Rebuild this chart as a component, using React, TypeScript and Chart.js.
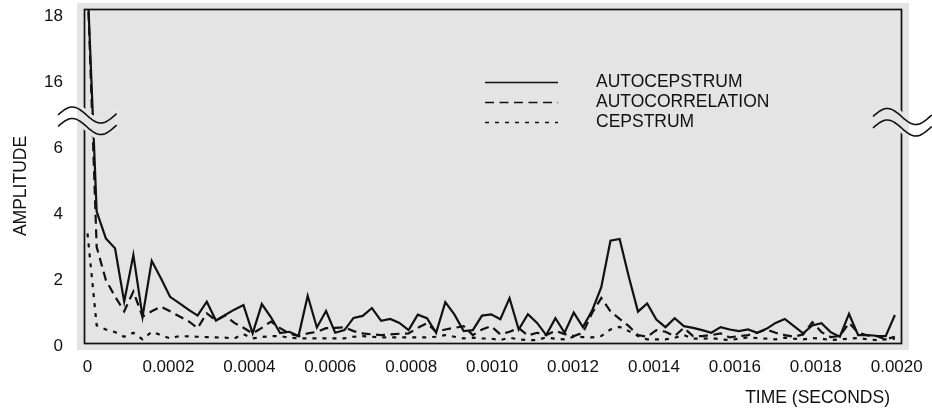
import React, { useEffect, useRef } from "react";
import { Chart, registerables } from "chart.js";

Chart.register(...registerables);

// Signals were sampled at 44.1 kHz; one value per sample index.
const SAMPLE_RATE = 44100;
const SAMPLE_COUNT = 89;
const TIME_S = Array.from({ length: SAMPLE_COUNT }, (_, i) => i / SAMPLE_RATE);

const AUTOCEPSTRUM = [
  19, 4.07, 3.26, 2.96, 1.34, 2.76, 0.89, 2.58, 2.05, 1.49, 1.3, 1.1, 0.92, 1.34, 0.77, 0.94, 1.1, 1.24, 0.38, 1.27, 0.87, 0.39,
  0.43, 0.3, 1.52, 0.56, 1.06, 0.4, 0.48, 0.85, 0.91, 1.15, 0.76, 0.82, 0.7, 0.48, 0.95, 0.84, 0.4, 1.33, 0.95, 0.45, 0.48,
  0.92, 0.96, 0.81, 1.45, 0.5, 0.96, 0.7, 0.33, 0.84, 0.4, 1.01, 0.57, 1.07, 1.78, 3.19, 3.24, 2.1, 1.04, 1.29, 0.8, 0.57, 0.84, 0.6,
  0.55, 0.48, 0.4, 0.57, 0.5, 0.45, 0.5, 0.4, 0.52, 0.7, 0.82, 0.6, 0.38, 0.62, 0.69, 0.42, 0.28, 0.97, 0.33, 0.33, 0.31, 0.3, 0.94,
];

const AUTOCORRELATION = [
  19, 3.0, 2.0, 1.5, 1.05, 1.65, 0.89, 1.05, 1.19, 1.05, 0.9, 0.75, 0.54, 0.99, 0.77, 0.92, 0.7, 0.55, 0.38, 0.55, 0.74, 0.54,
  0.38, 0.3, 0.38, 0.43, 0.54, 0.55, 0.57, 0.45, 0.38, 0.35, 0.33, 0.35, 0.37, 0.38, 0.55, 0.69, 0.43, 0.5, 0.55, 0.6, 0.33,
  0.5, 0.6, 0.35, 0.43, 0.54, 0.32, 0.4, 0.33, 0.46, 0.36, 0.3, 0.4, 1.0, 1.45, 1.05, 0.82, 0.6, 0.33, 0.28, 0.48, 0.43, 0.3, 0.55,
  0.3, 0.3, 0.33, 0.38, 0.26, 0.3, 0.33, 0.4, 0.5, 0.4, 0.33, 0.28, 0.35, 0.72, 0.42, 0.27, 0.3, 0.7, 0.4, 0.32, 0.3, 0.2, 0.28,
];

const CEPSTRUM = [
  3.41, 0.62, 0.5, 0.42, 0.28, 0.4, 0.2, 0.43, 0.33, 0.23, 0.3, 0.29, 0.28, 0.27, 0.26, 0.25, 0.23, 0.36, 0.23, 0.27, 0.3, 0.3,
  0.25, 0.23, 0.23, 0.23, 0.23, 0.23, 0.23, 0.28, 0.3, 0.28, 0.26, 0.26, 0.26, 0.26, 0.26, 0.26, 0.28, 0.33, 0.28, 0.23, 0.25,
  0.23, 0.22, 0.18, 0.25, 0.2, 0.18, 0.18, 0.26, 0.22, 0.2, 0.28, 0.27, 0.26, 0.3, 0.5, 0.58, 0.45, 0.3, 0.2, 0.2, 0.2, 0.25, 0.33,
  0.22, 0.22, 0.24, 0.2, 0.18, 0.22, 0.26, 0.24, 0.22, 0.2, 0.25, 0.22, 0.2, 0.24, 0.22, 0.18, 0.2, 0.22, 0.24, 0.2, 0.18, 0.2, 0.22,
];

const SERIES_NAMES = ["AUTOCEPSTRUM", "AUTOCORRELATION", "CEPSTRUM"];
const SERIES_DASH: number[][] = [[], [9, 5.5], [4, 6]];

const X_TICKS = [0, 0.0002, 0.0004, 0.0006, 0.0008, 0.001, 0.0012, 0.0014, 0.0016, 0.0018, 0.002];
const Y_TICK_LABELS = [0, 2, 4, 6, 16, 18];

// Broken amplitude axis: the band between 7 and 15 is cut out.
const BREAK_LOW = 7;
const BREAK_SHIFT = 8;
const toAxis = (v: number) => (v > BREAK_LOW ? v - BREAK_SHIFT : v);

const FONT = "'Liberation Sans', Arial, Helvetica, sans-serif";
const INK = "#111111";
const PANEL = "#e4e4e4";

const BG_BOX = { left: 77, top: 3, right: 909, bottom: 350 };

function wavePath(ctx: CanvasRenderingContext2D, x0: number, w: number, yc: number, amp: number, reverse = false) {
  const steps = 40;
  for (let k = 0; k <= steps; k++) {
    const s = reverse ? steps - k : k;
    const t = (s / steps) * 1.03;
    const x = x0 + w * t;
    const y = yc - amp * Math.sin(2 * Math.PI * t);
    if (k === 0 && !reverse) ctx.moveTo(x, y);
    else ctx.lineTo(x, y);
  }
}

function drawBreak(ctx: CanvasRenderingContext2D, x0: number, ycUpper: number, ycLower: number) {
  const w = 57;
  const amp = 8;
  const gap = 5;
  const region = () => {
    ctx.beginPath();
    wavePath(ctx, x0, w, ycUpper - gap, amp);
    wavePath(ctx, x0, w, ycLower + gap, amp, true);
    ctx.closePath();
  };
  ctx.save();
  region();
  ctx.fillStyle = "#ffffff";
  ctx.fill();
  ctx.beginPath();
  ctx.rect(BG_BOX.left, BG_BOX.top, BG_BOX.right - BG_BOX.left, BG_BOX.bottom - BG_BOX.top);
  ctx.clip();
  region();
  ctx.fillStyle = PANEL;
  ctx.fill();
  ctx.restore();

  ctx.save();
  ctx.strokeStyle = INK;
  ctx.lineWidth = 1.6;
  ctx.beginPath();
  wavePath(ctx, x0, w, ycUpper, amp);
  ctx.stroke();
  ctx.beginPath();
  wavePath(ctx, x0, w, ycLower, amp);
  ctx.stroke();
  ctx.restore();
}

const decorPlugin = {
  id: "decor",
  beforeDraw(chart: any) {
    const ctx = chart.ctx as CanvasRenderingContext2D;
    ctx.save();
    ctx.fillStyle = PANEL;
    ctx.fillRect(BG_BOX.left, BG_BOX.top, BG_BOX.right - BG_BOX.left, BG_BOX.bottom - BG_BOX.top);
    ctx.restore();
  },
  afterDraw(chart: any) {
    const ctx = chart.ctx as CanvasRenderingContext2D;
    const a = chart.chartArea;

    // frame
    ctx.save();
    ctx.strokeStyle = INK;
    ctx.lineWidth = 1.7;
    ctx.strokeRect(a.left + 0.5, a.top + 0.5, a.right - a.left, a.bottom - a.top);
    ctx.restore();

    // axis-break marks
    drawBreak(ctx, 58, 115, 126.5);
    drawBreak(ctx, 873, 116.5, 128);

    // legend
    ctx.save();
    ctx.strokeStyle = INK;
    ctx.fillStyle = INK;
    ctx.font = `17.5px ${FONT}`;
    ctx.textBaseline = "middle";
    ctx.textAlign = "left";
    const rows = [82.5, 102.5, 122.5];
    SERIES_NAMES.forEach((name, i) => {
      ctx.beginPath();
      ctx.setLineDash(SERIES_DASH[i]);
      ctx.lineWidth = 1.5;
      ctx.moveTo(485, rows[i]);
      ctx.lineTo(558, rows[i]);
      ctx.stroke();
      ctx.setLineDash([]);
      ctx.fillText(name, 596, rows[i] - 0.5);
    });
    ctx.restore();

    // axis titles
    ctx.save();
    ctx.fillStyle = INK;
    ctx.font = `17.5px ${FONT}`;
    ctx.textBaseline = "middle";
    ctx.textAlign = "right";
    ctx.fillText("TIME (SECONDS)", 890, 398);
    ctx.translate(21, 186);
    ctx.rotate(-Math.PI / 2);
    ctx.textAlign = "center";
    ctx.fillText("AMPLITUDE", 0, 0);
    ctx.restore();
  },
};

const zeroPadding = (scale: any) => {
  scale.paddingLeft = 0;
  scale.paddingRight = 0;
  scale.paddingTop = 0;
  scale.paddingBottom = 0;
};

export default function App() {
  const canvasRef = useRef<HTMLCanvasElement | null>(null);

  useEffect(() => {
    const canvas = canvasRef.current;
    if (!canvas) return;
    const series = [AUTOCEPSTRUM, AUTOCORRELATION, CEPSTRUM];
    const chart = new Chart(canvas, {
      type: "line",
      data: {
        datasets: series.map((values, i) => ({
          label: SERIES_NAMES[i],
          data: TIME_S.map((t, k) => ({ x: t, y: toAxis(values[k]) })),
          borderColor: INK,
          borderWidth: 2.2,
          borderDash: SERIES_DASH[i],
          pointRadius: 0,
          tension: 0,
          fill: false,
        })),
      },
      options: {
        responsive: false,
        maintainAspectRatio: false,
        animation: false,
        devicePixelRatio: 1,
        events: [],
        layout: { padding: { top: 9, right: 31, left: 0, bottom: 0 } },
        plugins: { legend: { display: false }, tooltip: { enabled: false } },
        scales: {
          x: {
            type: "linear",
            min: -0.00000865,
            max: 0.0020106,
            grid: { display: false, drawTicks: false },
            border: { display: false },
            afterBuildTicks: (scale: any) => {
              scale.ticks = X_TICKS.map((v) => ({ value: v }));
            },
            afterFit: (scale: any) => {
              scale.height = 71;
              zeroPadding(scale);
            },
            ticks: {
              autoSkip: false,
              maxRotation: 0,
              padding: 14,
              color: INK,
              font: { family: FONT, size: 17 },
              callback: (v: any) => (Number(v) === 0 ? "0" : Number(v).toFixed(4)),
            },
          },
          y: {
            type: "linear",
            min: 0.09,
            max: 10.21,
            grid: { display: false, drawTicks: false },
            border: { display: false },
            afterBuildTicks: (scale: any) => {
              scale.ticks = Y_TICK_LABELS.map((v) => ({ value: toAxis(v) }));
            },
            afterFit: (scale: any) => {
              scale.width = 84;
              zeroPadding(scale);
            },
            ticks: {
              autoSkip: false,
              padding: 21,
              color: INK,
              font: { family: FONT, size: 17 },
              callback: (v: any) => {
                const m = Number(v);
                return String(m > BREAK_LOW ? Math.round(m + BREAK_SHIFT) : Math.round(m));
              },
            },
          },
        },
      },
      plugins: [decorPlugin],
    });
    return () => chart.destroy();
  }, []);

  return (
    <div style={{ position: "absolute", left: 0, top: 0, width: 932, height: 414, background: "#fff" }}>
      <canvas ref={canvasRef} width={932} height={414} style={{ display: "block" }} />
    </div>
  );
}
